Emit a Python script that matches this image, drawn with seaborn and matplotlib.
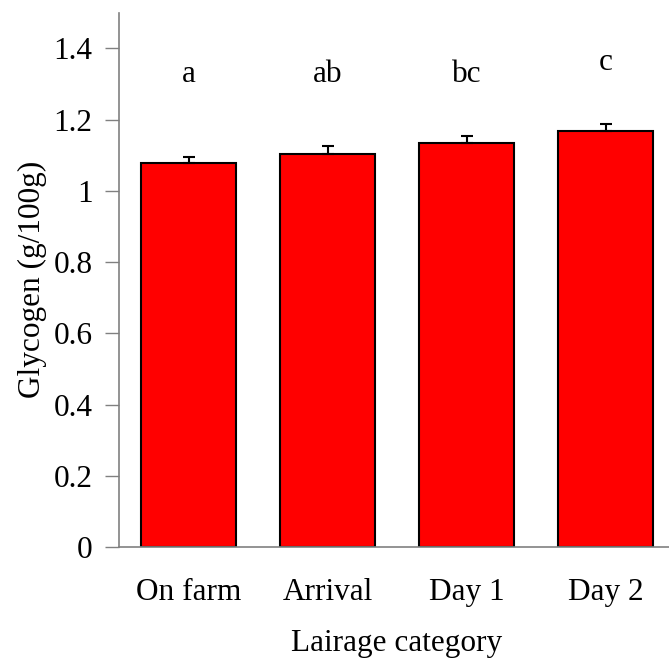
import numpy as np
import pandas as pd
import matplotlib
matplotlib.use("Agg")
import matplotlib.pyplot as plt
import seaborn as sns

# Data
categories = ["On farm", "Arrival", "Day 1", "Day 2"]
glycogen = [1.078, 1.103, 1.134, 1.168]
sem = [0.017, 0.022, 0.020, 0.020]
letters = ["a", "ab", "bc", "c"]
letter_y = [1.306, 1.306, 1.306, 1.339]

df = pd.DataFrame({"category": categories, "glycogen": glycogen})

sns.set_style("white")
plt.rcParams["font.family"] = ["Liberation Serif", "DejaVu Serif"]
plt.rcParams["font.size"] = 22.5
plt.rcParams["text.color"] = "black"
plt.rcParams["axes.labelcolor"] = "black"
plt.rcParams["xtick.labelcolor"] = "black"
plt.rcParams["ytick.labelcolor"] = "black"

fig = plt.figure(figsize=(6.69, 6.62), dpi=100)
ax = fig.add_axes([119 / 669, 1 - 547 / 662, 556 / 669, (547 - 12.7) / 662])

sns.barplot(data=df, x="category", y="glycogen", color="#ff0000", width=0.68,
            edgecolor="black", linewidth=1.5, saturation=1, errorbar=None, ax=ax)

# upward-only error bars
x = np.arange(len(categories))
ax.errorbar(x, glycogen, yerr=[np.zeros(len(sem)), sem], fmt="none",
            ecolor="black", elinewidth=1.5, capsize=4, capthick=1.5, zorder=3)

for xi, lab, ly in zip(x, letters, letter_y):
    ax.text(xi, ly, lab, ha="center", va="baseline", fontsize=22.5)

ax.set_xlim(-0.5, 3.5)
ax.set_ylim(0, 1.5)
ax.set_yticks(np.arange(0, 1.41, 0.2))
ax.set_yticklabels(["0", "0.2", "0.4", "0.6", "0.8", "1", "1.2", "1.4"])

ax.set_xticks(x)
ax.set_xticklabels(categories)
ax.set_xticks(np.arange(-0.5, 3.6, 1), minor=True)
ax.tick_params(axis="x", which="major", length=0, pad=22)
ax.tick_params(axis="x", which="minor", length=11, width=1, color="#808080", direction="out")
ax.tick_params(axis="y", length=10, width=1, color="#808080", direction="out", pad=9, left=True)

for side in ["top", "right"]:
    ax.spines[side].set_visible(False)
for side in ["left", "bottom"]:
    ax.spines[side].set_color("#808080")
    ax.spines[side].set_linewidth(1.2)

ax.set_xlabel("Lairage category", labelpad=16)
ax.set_ylabel("Glycogen (g/100g)", labelpad=5)

fig.savefig("out.png", dpi=100)
